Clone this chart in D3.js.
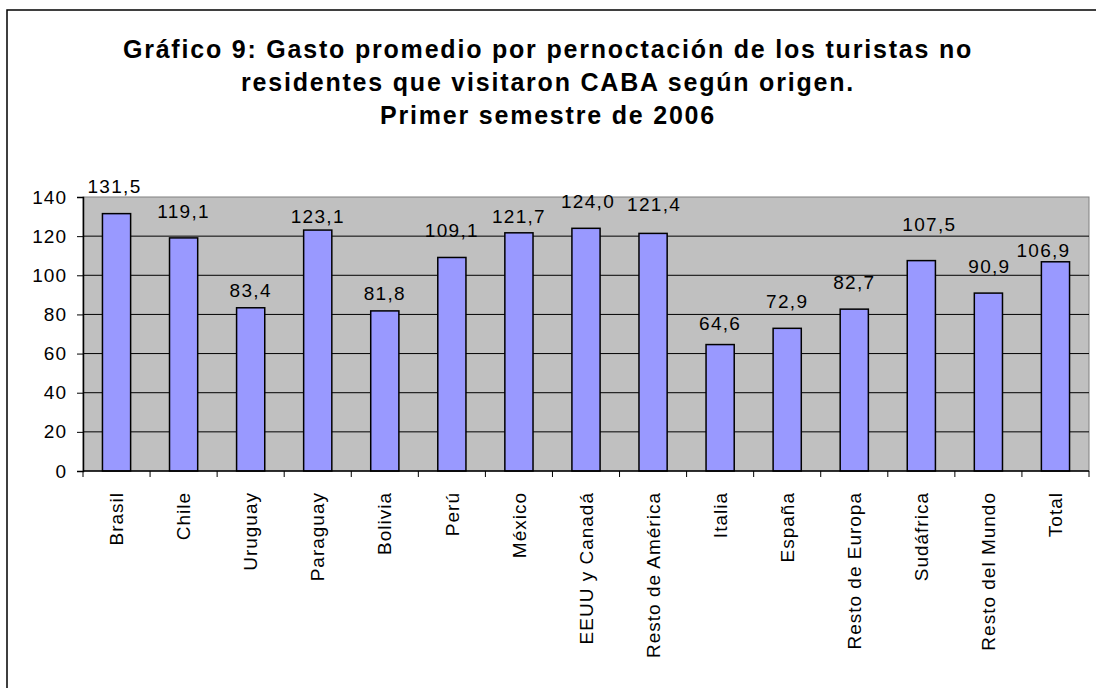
<!DOCTYPE html>
<html>
<head>
<meta charset="utf-8">
<script src="https://cdn.jsdelivr.net/npm/d3@7"></script>
<style>
  body { margin: 0; background: #fff; }
  svg text { font-family: "Liberation Sans", Arial, sans-serif; fill: #000; }
</style>
</head>
<body>
<div id="chart"></div>
<script>
// datos
var categorias = ["Brasil", "Chile", "Uruguay", "Paraguay", "Bolivia", "Perú", "México",
    "EEUU y Canadá", "Resto de América", "Italia", "España", "Resto de Europa",
    "Sudáfrica", "Resto del Mundo", "Total"];
var gasto = [131.5, 119.1, 83.4, 123.1, 81.8, 109.1, 121.7, 124.0, 121.4, 64.6, 72.9, 82.7, 107.5, 90.9, 106.9];
var yTicks = [0, 20, 40, 60, 80, 100, 120, 140];
var titulo = ["Gráfico 9: Gasto promedio por pernoctación de los turistas no",
    "residentes que visitaron CABA según origen.",
    "Primer semestre de 2006"];

// las etiquetas del original estan movidas a mano (px sobre la barra / corrimiento en x)
var labelGap = [21, 20, 11, 7, 11, 20, 10, 20, 22, 15, 20, 20, 30, 20, 5];
var labelDx  = [-2, 0, 0, 0, 0, 0, 0, 2, 1, 0, 0, 0, 8, 1, -12];

var W = 1096, H = 688;
var margin = {top: 197, right: 7, bottom: 217, left: 83};
var width = W - margin.left - margin.right;
var height = H - margin.top - margin.bottom;

var svg = d3.select("#chart").append("svg")
    .attr("width", W)
    .attr("height", H);

// marco exterior (cortado a derecha y abajo como en la imagen)
svg.append("rect")
    .attr("x", 7).attr("y", 10)
    .attr("width", W + 20).attr("height", H + 20)
    .attr("fill", "#fff")
    .attr("stroke", "#000")
    .attr("stroke-width", 1.5);

svg.selectAll(".titulo")
    .data(titulo)
    .enter().append("text")
    .attr("class", "titulo")
    .attr("x", 548)
    .attr("y", function (d, i) { return 58 + i * 33; })
    .attr("text-anchor", "middle")
    .style("font-weight", "bold")
    .style("font-size", "25px")
    .style("letter-spacing", "1.8px")
    .text(function (d) { return d; });

var x = d3.scaleBand().domain(categorias).range([0, width]).paddingInner(0.58).paddingOuter(0.29);
var xCat = d3.scaleBand().domain(categorias).range([0, width]);
var y = d3.scaleLinear().domain([0, 140]).range([height, 0]);

var g = svg.append("g")
    .attr("transform", "translate(" + margin.left + "," + margin.top + ")");

g.append("rect")
    .attr("width", width)
    .attr("height", height)
    .attr("fill", "#c0c0c0")
    .attr("stroke", "#808080")
    .attr("stroke-width", 1);

g.selectAll(".grid")
    .data(yTicks.slice(1, -1))
    .enter().append("line")
    .attr("class", "grid")
    .attr("x1", 0).attr("x2", width)
    .attr("y1", function (d) { return y(d); })
    .attr("y2", function (d) { return y(d); })
    .attr("stroke", "#000")
    .attr("stroke-width", 1);

var yAxis = d3.axisLeft(y).tickValues(yTicks).tickSize(6).tickPadding(10)
    .tickFormat(d3.format("d"));
var ya = g.append("g").attr("class", "y axis").call(yAxis);
ya.select(".domain").attr("stroke", "#000").attr("stroke-width", 1.5);
ya.selectAll(".tick line").attr("stroke", "#000");
ya.selectAll(".tick text").style("font-size", "19px").style("letter-spacing", "1px");

g.selectAll(".bar")
    .data(gasto)
    .enter().append("rect")
    .attr("class", "bar")
    .attr("x", function (d, i) { return x(categorias[i]); })
    .attr("y", function (d) { return y(d); })
    .attr("width", x.bandwidth())
    .attr("height", function (d) { return height - y(d); })
    .attr("fill", "#9999ff")
    .attr("stroke", "#000")
    .attr("stroke-width", 1.5);

// eje x: ticks entre categorias
var xa = g.append("g")
    .attr("transform", "translate(0," + height + ")");
xa.append("line")
    .attr("x1", 0).attr("x2", width)
    .attr("stroke", "#000").attr("stroke-width", 1.5);
xa.selectAll(".xtick")
    .data(d3.range(categorias.length + 1))
    .enter().append("line")
    .attr("class", "xtick")
    .attr("x1", function (i) { return i * xCat.step(); })
    .attr("x2", function (i) { return i * xCat.step(); })
    .attr("y1", 0).attr("y2", 6)
    .attr("stroke", "#000");

xa.selectAll(".catLabel")
    .data(categorias)
    .enter().append("text")
    .attr("class", "catLabel")
    .attr("transform", function (d) {
        return "translate(" + (xCat(d) + xCat.bandwidth() / 2) + ",21) rotate(-90)";
    })
    .attr("dy", "0.35em")
    .attr("text-anchor", "end")
    .style("font-size", "19px")
    .style("letter-spacing", "1px")
    .text(function (d) { return d; });

g.selectAll(".valor")
    .data(gasto)
    .enter().append("text")
    .attr("class", "valor")
    .attr("x", function (d, i) { return x(categorias[i]) + x.bandwidth() / 2 + labelDx[i]; })
    .attr("y", function (d, i) { return y(d) - labelGap[i]; })
    .attr("text-anchor", "middle")
    .style("font-size", "19px")
    .style("letter-spacing", "1.3px")
    .text(function (d) { return d3.format(".1f")(d).replace(".", ","); });
</script>
</body>
</html>
